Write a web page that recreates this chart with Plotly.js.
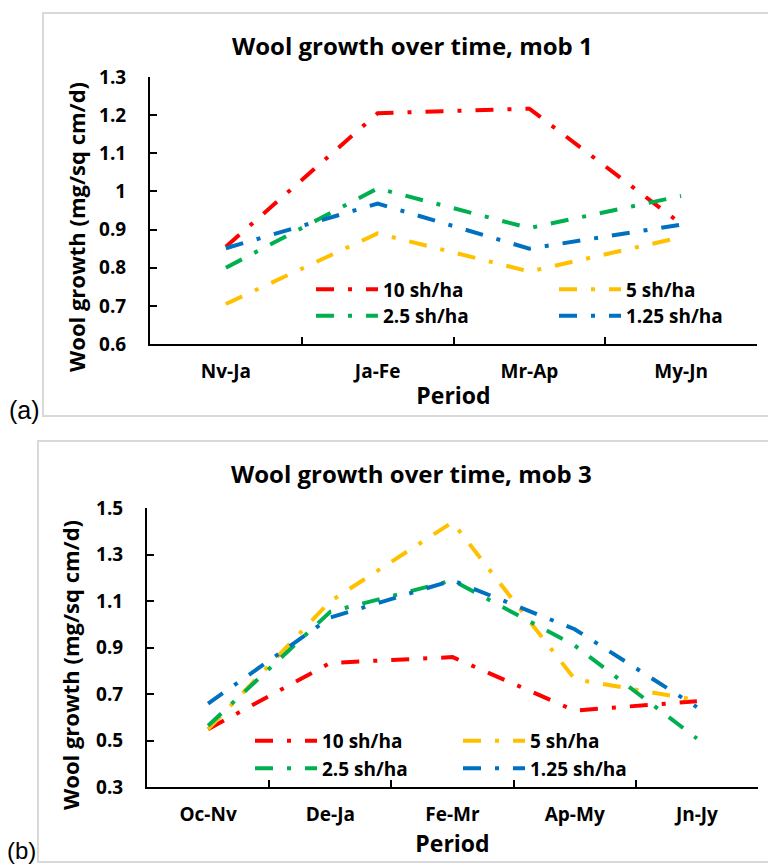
<!DOCTYPE html>
<html>
<head>
<meta charset="utf-8">
<script src="https://cdn.plot.ly/plotly-3.0.1.min.js"></script>
<style>
html,body{margin:0;padding:0;background:#ffffff;}
#chart{width:768px;height:865px;}
</style>
</head>
<body>
<div id="chart"></div>
<script>
// ---------- data ----------
const periodsA = ["Nv-Ja", "Ja-Fe", "Mr-Ap", "My-Jn"];
const periodsB = ["Oc-Nv", "De-Ja", "Fe-Mr", "Ap-My", "Jn-Jy"];
const seriesNames = ["10 sh/ha", "5 sh/ha", "2.5 sh/ha", "1.25 sh/ha"];

// mob 1 (panel a)
const mob1_10sh = [0.855, 1.205, 1.217, 0.915];
const mob1_5sh = [0.705, 0.890, 0.790, 0.880];
const mob1_2p5sh = [0.800, 1.008, 0.904, 0.988];
const mob1_1p25sh = [0.851, 0.968, 0.850, 0.913];

// mob 3 (panel b)
const mob3_10sh = [0.550, 0.835, 0.860, 0.630, 0.670];
const mob3_5sh = [0.550, 1.100, 1.440, 0.765, 0.675];
const mob3_2p5sh = [0.565, 1.055, 1.190, 0.910, 0.510];
const mob3_1p25sh = [0.660, 1.030, 1.190, 0.980, 0.645];

const yTickValsA = [0.6, 0.7, 0.8, 0.9, 1.0, 1.1, 1.2, 1.3];
const yTickTextA = ["0.6", "0.7", "0.8", "0.9", "1", "1.1", "1.2", "1.3"];
const yTickValsB = [0.3, 0.5, 0.7, 0.9, 1.1, 1.3, 1.5];
const yTickTextB = ["0.3", "0.5", "0.7", "0.9", "1.1", "1.3", "1.5"];

const titleA = "Wool growth over time, mob 1";
const titleB = "Wool growth over time, mob 3";
const yTitle = "Wool growth (mg/sq cm/d)";
const xTitle = "Period";

// ---------- styling ----------
const colors = ["#FF0000", "#FFC000", "#00B050", "#0070C0"];
const DASH = "18px,14px,4px,14px";
const FONT = "'Open Sans', 'Noto Sans', sans-serif";
const W = 768, H = 865;
const px = v => v / W;
const py = v => 1 - v / H;

const seriesA = [mob1_10sh, mob1_5sh, mob1_2p5sh, mob1_1p25sh];
const seriesB = [mob3_10sh, mob3_5sh, mob3_2p5sh, mob3_1p25sh];

const traces = [];
seriesA.forEach((ys, i) => {
  traces.push({
    type: "scatter", mode: "lines", x: periodsA, y: ys, name: seriesNames[i],
    xaxis: "x", yaxis: "y", legend: i === 0 ? "legend" : "legend" + (i + 1),
    line: {color: colors[i], width: 4, dash: DASH}, hoverinfo: "skip"
  });
});
seriesB.forEach((ys, i) => {
  traces.push({
    type: "scatter", mode: "lines", x: periodsB, y: ys, name: seriesNames[i],
    xaxis: "x2", yaxis: "y2", legend: "legend" + (i + 5),
    line: {color: colors[i], width: 4, dash: DASH}, hoverinfo: "skip"
  });
});

const tickFont = {family: FONT, size: 19, color: "#000", weight: "bold"};
const axTitleFont = {family: FONT, size: 23, color: "#000", weight: "bold"};

function xAxis(domain, cats, anchor, standoff) {
  return {
    domain: domain, anchor: anchor, type: "category", categoryorder: "array",
    categoryarray: cats, range: [-0.5, cats.length - 0.5],
    showline: true, linecolor: "#000", linewidth: 2,
    ticks: "inside", tickson: "boundaries", ticklen: 7, tickwidth: 2, tickcolor: "#000",
    showgrid: false, zeroline: false, tickfont: tickFont, ticklabelstandoff: 9,
    title: {text: xTitle, font: axTitleFont, standoff: standoff}, fixedrange: true
  };
}
function yAxis(domain, range, vals, text, anchor) {
  return {
    domain: domain, anchor: anchor, range: range, tickmode: "array",
    tickvals: vals, ticktext: text,
    showline: true, linecolor: "#000", linewidth: 2,
    ticks: "inside", ticklen: 7, tickwidth: 2, tickcolor: "#000",
    showgrid: false, zeroline: false, tickfont: tickFont, ticklabelstandoff: 18,
    fixedrange: true
  };
}

function legendAt(xPix, yPix) {
  return {
    x: px(xPix), y: py(yPix), xref: "paper", yref: "paper",
    xanchor: "left", yanchor: "middle", orientation: "h",
    bgcolor: "rgba(0,0,0,0)", borderwidth: 0, itemwidth: 62,
    font: {family: FONT, size: 19, color: "#000", weight: "bold"},
    itemclick: false, itemdoubleclick: false
  };
}

const layout = {
  width: W, height: H,
  margin: {l: 0, r: 0, t: 0, b: 0},
  paper_bgcolor: "#ffffff", plot_bgcolor: "#ffffff",
  showlegend: true,
  xaxis: xAxis([px(150), px(757)], periodsA, "y", 5),
  yaxis: yAxis([py(344), py(77)], [0.6, 1.3], yTickValsA, yTickTextA, "x"),
  xaxis2: xAxis([px(147), px(758)], periodsB, "y2", 5),
  yaxis2: yAxis([py(787.3), py(508.3)], [0.3, 1.5], yTickValsB, yTickTextB, "x2"),
  legend: legendAt(311, 289.5),
  legend2: legendAt(554, 289.5),
  legend3: legendAt(311, 316),
  legend4: legendAt(554, 316),
  legend5: legendAt(250, 741),
  legend6: legendAt(458, 741),
  legend7: legendAt(250, 768.5),
  legend8: legendAt(458, 768.5),
  shapes: [
    {type: "rect", xref: "paper", yref: "paper", x0: px(43), x1: px(790), y0: py(416), y1: py(13),
     line: {color: "#d9d9d9", width: 2}, fillcolor: "rgba(0,0,0,0)", layer: "below"},
    {type: "rect", xref: "paper", yref: "paper", x0: px(38), x1: px(790), y0: py(862), y1: py(441),
     line: {color: "#d9d9d9", width: 2}, fillcolor: "rgba(0,0,0,0)", layer: "below"}
  ],
  annotations: [
    {text: titleA, xref: "paper", yref: "paper", x: px(412), y: py(46), xanchor: "center", yanchor: "middle",
     showarrow: false, font: {family: FONT, size: 24, color: "#000", weight: "bold"}},
    {text: titleB, xref: "paper", yref: "paper", x: px(411), y: py(473), xanchor: "center", yanchor: "middle",
     showarrow: false, font: {family: FONT, size: 24, color: "#000", weight: "bold"}},
    {text: yTitle, xref: "paper", yref: "paper", x: px(76), y: py(227), xanchor: "center", yanchor: "middle",
     textangle: -90, showarrow: false, font: {family: FONT, size: 22, color: "#000", weight: "bold"}},
    {text: yTitle, xref: "paper", yref: "paper", x: px(70), y: py(665), xanchor: "center", yanchor: "middle",
     textangle: -90, showarrow: false, font: {family: FONT, size: 22, color: "#000", weight: "bold"}},
    {text: "(a)", xref: "paper", yref: "paper", x: px(24), y: py(410), xanchor: "center", yanchor: "middle",
     showarrow: false, font: {family: "'Liberation Sans', Arial, sans-serif", size: 25, color: "#000"}},
    {text: "(b)", xref: "paper", yref: "paper", x: px(21), y: py(850), xanchor: "center", yanchor: "middle",
     showarrow: false, font: {family: "'Liberation Sans', Arial, sans-serif", size: 24, color: "#000"}}
  ]
};

Plotly.newPlot("chart", traces, layout, {staticPlot: true, displayModeBar: false});
</script>
</body>
</html>
